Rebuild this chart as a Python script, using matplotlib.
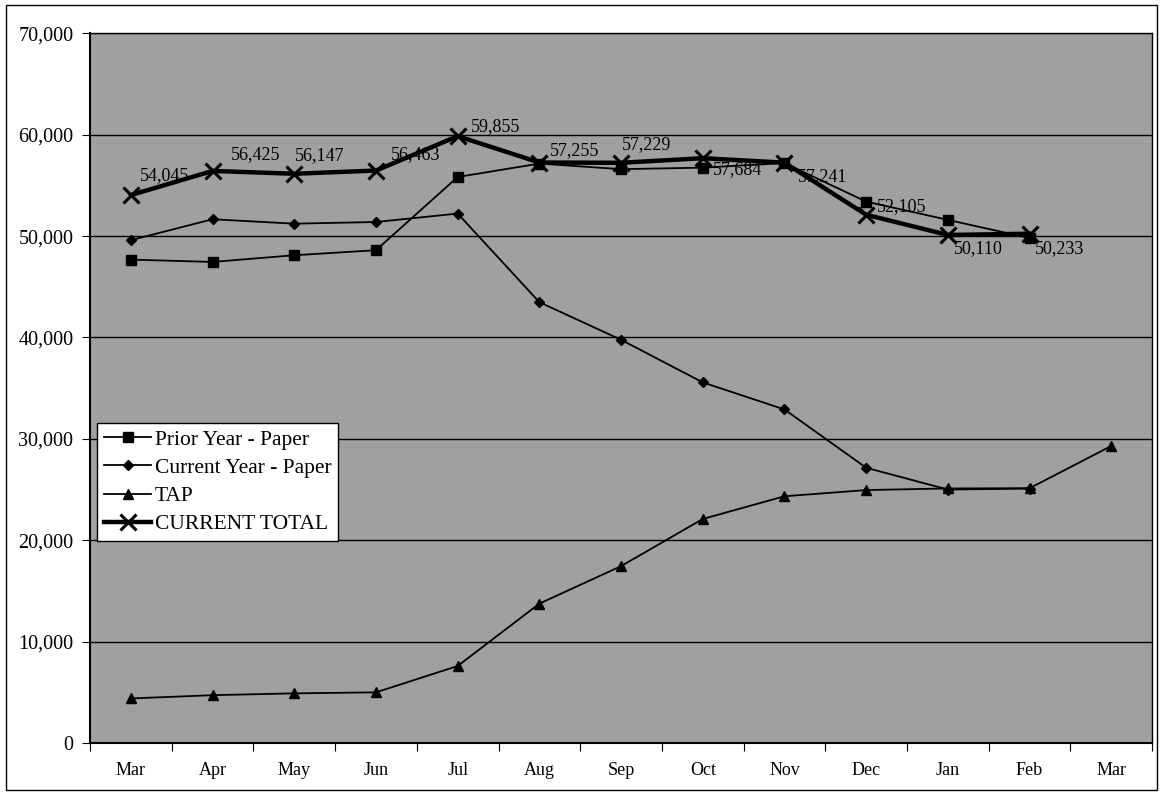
import matplotlib.pyplot as plt
from matplotlib.patches import Rectangle

months = ['Mar', 'Apr', 'May', 'Jun', 'Jul', 'Aug', 'Sep', 'Oct', 'Nov', 'Dec', 'Jan', 'Feb', 'Mar']

prior_paper = [47680, 47450, 48110, 48610, 55830, 57150, 56600, 56750, 57200, 53400, 51600, 49800]
current_paper = [49600, 51660, 51225, 51390, 52220, 43480, 39770, 35570, 32900, 27150, 25000, 25100]
tap = [4400, 4720, 4900, 5000, 7600, 13750, 17450, 22100, 24340, 24950, 25110, 25130, 29300]
current_total = [54045, 56425, 56147, 56463, 59855, 57255, 57229, 57684, 57241, 52105, 50110, 50233]

# pixel offsets of each total label from its point
lbl_dx = [9, 18, 1, 15, 13, 10, 1, 10, 13, 11, 6, 5]
lbl_dy = [19, 16, 18, 16, 10, 12, 18, -11, -14, 8, -14, -15]

plt.rcParams['font.family'] = ['Liberation Serif', 'DejaVu Serif']

fig = plt.figure(figsize=(11.62, 7.93), dpi=100)
ax = fig.add_axes([0.0775, 0.063, 0.914, 0.895])
ax.set_facecolor('#a0a0a0')

x12 = list(range(12))
x13 = list(range(13))

ax.plot(x12, prior_paper, color='black', lw=1.3, marker='s', ms=7, label='Prior Year - Paper', zorder=3)
ax.plot(x12, current_paper, color='black', lw=1.3, marker='D', ms=5.5, label='Current Year - Paper', zorder=3)
ax.plot(x13, tap, color='black', lw=1.3, marker='^', ms=7.5, label='TAP', zorder=3)
ax.plot(x12, current_total, color='black', lw=3.2, marker='x', ms=11, mew=2.2,
        label='CURRENT TOTAL', zorder=4)

for i, v in enumerate(current_total):
    ax.annotate(f'{v:,}', (x12[i], v), xytext=(lbl_dx[i], lbl_dy[i]),
                textcoords='offset pixels', ha='left', va='center',
                fontsize=13, color='black', zorder=5)

ax.set_ylim(0, 70000)
ax.set_yticks(range(0, 70001, 10000))
ax.set_yticklabels([f'{t:,}' for t in range(0, 70001, 10000)], fontsize=14.5)
ax.yaxis.grid(True, color='black', lw=1.0)
ax.set_axisbelow(True)

ax.set_xlim(-0.5, 12.5)
ax.set_xticks([i - 0.5 for i in range(14)])
ax.set_xticklabels([])
ax.set_xticks(x13, minor=True)
ax.set_xticklabels(months, minor=True, fontsize=13)
ax.tick_params(axis='x', which='major', length=6, direction='out', color='black')
ax.tick_params(axis='x', which='minor', length=0, pad=14)
ax.tick_params(axis='y', length=6, direction='out', pad=6)

for s in ax.spines.values():
    s.set_color('black')
    s.set_linewidth(1.0)
ax.spines['left'].set_linewidth(1.5)
ax.spines['bottom'].set_linewidth(1.5)

leg = ax.legend(loc='lower left', bbox_to_anchor=(0.007, 0.285), fontsize=15.5,
                frameon=True, fancybox=False, edgecolor='black', framealpha=1,
                handlelength=2.2, handletextpad=0.15, labelspacing=0.38,
                borderpad=0.3, borderaxespad=0)
leg.get_frame().set_linewidth(1.0)

fig.patches.append(Rectangle((0.005, 0.004), 0.991, 0.99, transform=fig.transFigure,
                             fill=False, edgecolor='black', lw=1.0))

fig.savefig('out.png', dpi=100, facecolor='white')
